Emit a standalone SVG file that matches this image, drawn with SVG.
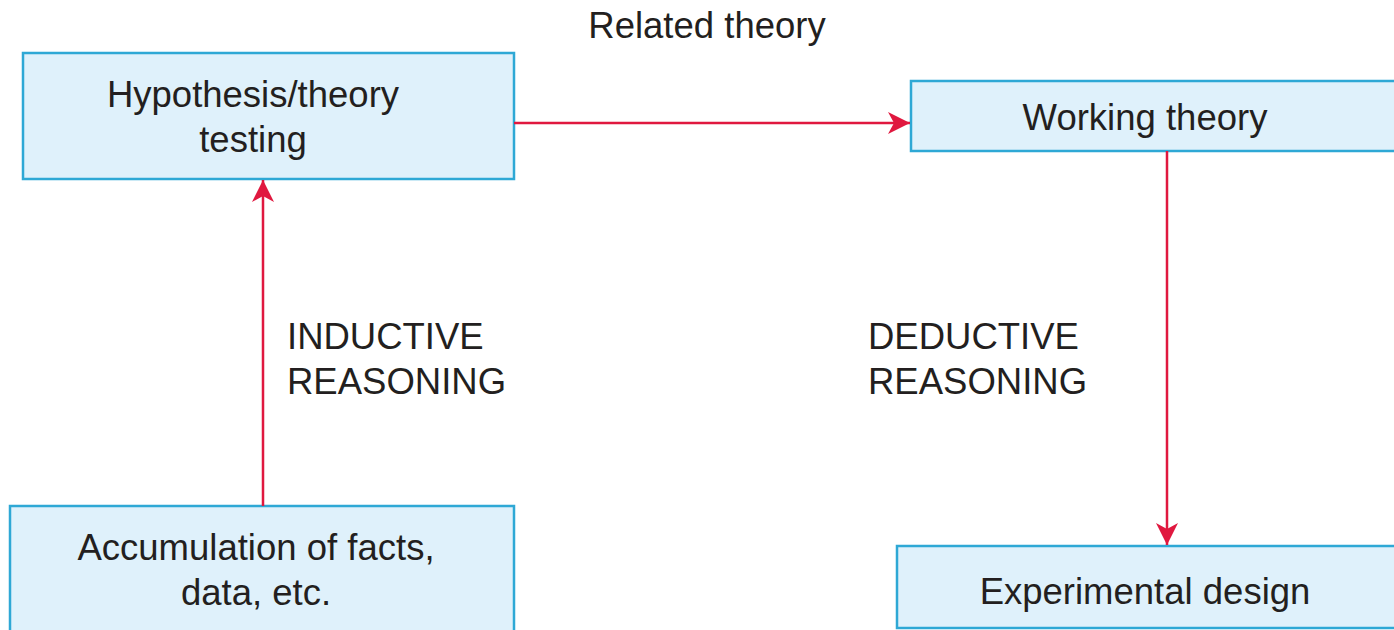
<svg xmlns="http://www.w3.org/2000/svg" width="1394" height="630" viewBox="0 0 1394 630">
<style>
.box{fill:#dff1fb;stroke:#2ea8d5;stroke-width:2.5}
.t{font-family:"Liberation Sans",Arial,sans-serif;font-size:36.5px;fill:#231f20}
.c{text-anchor:middle}
.con{stroke:#e0183f;stroke-width:2.5;fill:none}
</style>
<defs>
<marker id="ah" viewBox="0 0 22 22" refX="22" refY="11" markerWidth="22" markerHeight="22" markerUnits="userSpaceOnUse" orient="auto">
<path d="M0,0 L22,11 L0,22 L6,11 Z" fill="#e0183f"/>
</marker>
</defs>
<rect width="1394" height="630" fill="#ffffff"/>
<text class="t c" x="707" y="38">Related theory</text>
<g id="hypothesis">
<rect class="box" x="23" y="53" width="491" height="126"/>
<text class="t c" x="253" y="107">Hypothesis/theory</text>
<text class="t c" x="253" y="152">testing</text>
</g>
<g id="working">
<rect class="box" x="911" y="81" width="490" height="70"/>
<text class="t c" x="1145" y="130">Working theory</text>
</g>
<g id="accumulation">
<rect class="box" x="10" y="506" width="504" height="130"/>
<text class="t c" x="256" y="560">Accumulation of facts,</text>
<text class="t c" x="256" y="605">data, etc.</text>
</g>
<g id="experimental">
<rect class="box" x="897" y="546" width="504" height="82"/>
<text class="t c" x="1145" y="604">Experimental design</text>
</g>
<g id="labels">
<text class="t" x="287" y="349">INDUCTIVE</text>
<text class="t" x="287" y="394">REASONING</text>
<text class="t" x="868" y="349">DEDUCTIVE</text>
<text class="t" x="868" y="394">REASONING</text>
</g>
<g id="connectors">
<line class="con" x1="514" y1="123" x2="910" y2="123" marker-end="url(#ah)"/>
<line class="con" x1="263" y1="506" x2="263" y2="180" marker-end="url(#ah)"/>
<line class="con" x1="1167" y1="151" x2="1167" y2="545" marker-end="url(#ah)"/>
</g>
</svg>
